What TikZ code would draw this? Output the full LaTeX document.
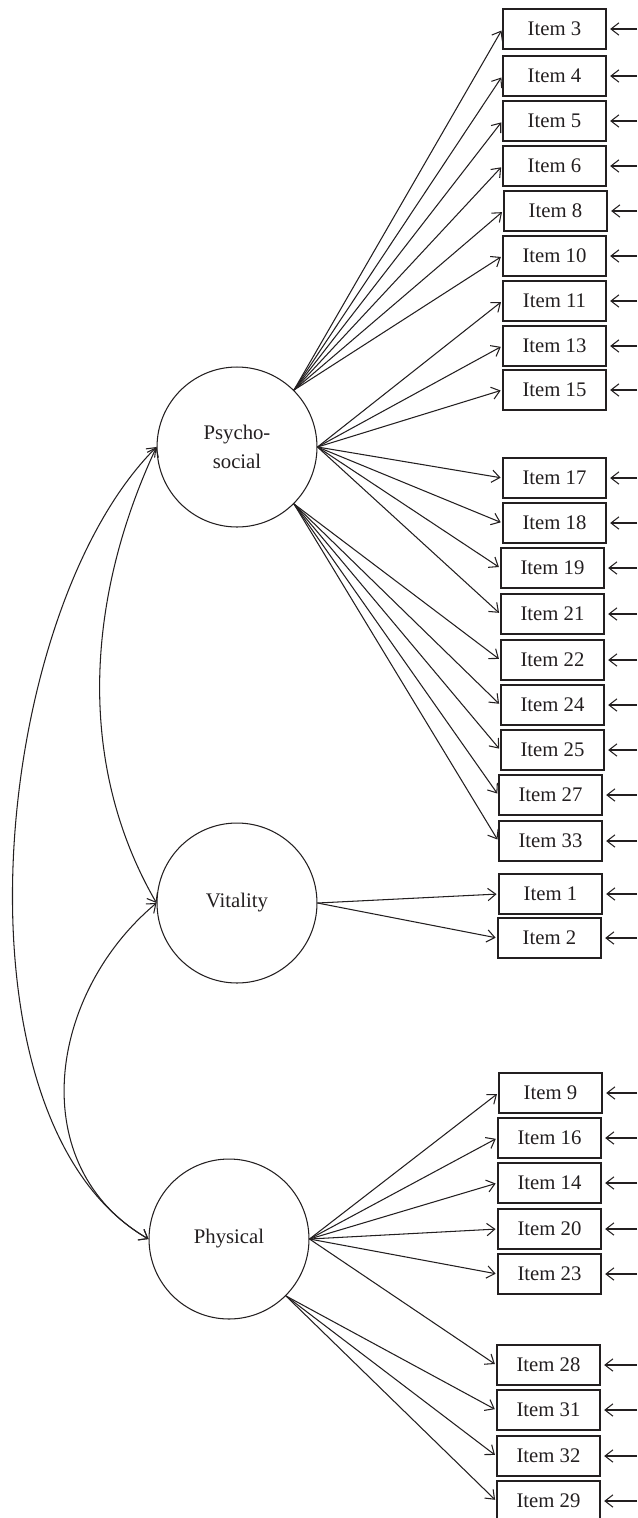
\documentclass[tikz,border=0pt]{standalone}
\usepackage{fontspec}
\setmainfont{Liberation Serif}
\usetikzlibrary{arrows.meta}
\definecolor{ink}{HTML}{231F20}
\begin{document}
\begin{tikzpicture}[x=0.02cm,y=-0.02cm,
  every node/.style={font=\fontsize{11.8}{16.4}\selectfont, text=ink},
  itembox/.style={draw=ink, line width=0.75pt, minimum width=2.06cm, minimum height=0.8cm, inner sep=0pt},
  factor/.style={draw=ink, line width=0.6pt, circle, minimum size=3.2cm, inner sep=0pt, align=center},
  barb/.tip={Straight Barb[length=4.5pt,width=7pt]},
  load/.style={draw=ink, line width=0.6pt, -barb, shorten >=1pt},
  err/.style={draw=ink, line width=0.6pt, -barb, shorten >=2pt},
  cov/.style={draw=ink, line width=0.6pt, barb-barb},
]
\useasboundingbox (0,0) rectangle (637,1518);
\coordinate (right) at (637,0);

% factors
\node[factor] (P) at (237,447) {Psycho-\\social};
\node[factor] (V) at (237,903) {Vitality};
\node[factor] (H) at (229,1239) {Physical};

% items
\foreach \n/\l/\y in {3/503/29, 4/503/76, 5/503/121, 6/503/166, 8/504/211,
  10/503/256, 11/503/301, 13/503/346, 15/503/390, 17/503/478, 18/503/523,
  19/501/568, 21/501/614, 22/501/660, 24/501/705, 25/501/750, 27/499/795,
  33/499/841, 1/499/894, 2/498/938, 9/499/1093, 16/498/1138, 14/498/1183,
  20/498/1229, 23/498/1274, 28/497/1365, 31/497/1410, 32/497/1456, 29/497/1501}
{
  \node[itembox] (i\n) at (\l+51.5,\y) {Item \n};
  \draw[err] (i\n.east -| right) -- (i\n.east);
}

% loadings
\foreach \n in {3,4,5,6,8,10} \draw[load] (P.45) -- (i\n.west);
\foreach \n in {11,13,15,17,18,19,21} \draw[load] (P.east) -- (i\n.west);
\foreach \n in {22,24,25,27,33} \draw[load] (P.-45) -- (i\n.west);
\foreach \n in {1,2} \draw[load] (V.east) -- (i\n.west);
\foreach \n in {9,16,14,20,23,28} \draw[load] (H.east) -- (i\n.west);
\foreach \n in {31,32,29} \draw[load] (H.-45) -- (i\n.west);

% covariances
\draw[cov] (P.west) to[out=-115,in=120,looseness=0.92] (V.west);
\draw[cov] (P.west) to[out=-135,in=150,looseness=0.76] (H.west);
\draw[cov] (V.west) to[out=-140,in=150,looseness=1.09] (H.west);
\end{tikzpicture}
\end{document}
